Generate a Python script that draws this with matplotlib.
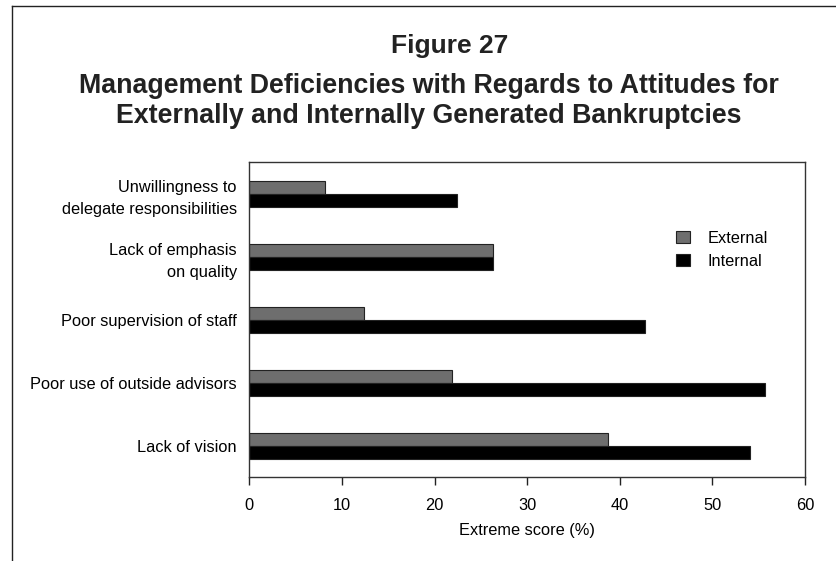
import matplotlib.pyplot as plt
from matplotlib.lines import Line2D
import numpy as np

# ------------------ DATA -----------------------------------------
categories = ['Lack of vision', 'Poor use of outside advisors', 'Poor supervision of staff',
              'Lack of emphasis\non quality', 'Unwillingness to\ndelegate responsibilities']
external = [38.7, 21.9, 12.4, 26.3, 8.2]
internal = [54.1, 55.7, 42.7, 26.3, 22.4]
xticks = [0, 10, 20, 30, 40, 50, 60]
# -----------------------------------------------------------------

plt.rcParams['font.family'] = ['Liberation Sans', 'DejaVu Sans']

fig = plt.figure(figsize=(8.36, 5.61), dpi=100)
ax = fig.add_axes([0.2982, 0.1492, 0.9629 - 0.2982, 0.7107 - 0.1492])

y = np.arange(len(categories))
h = 0.206
ax.barh(y + h / 2, external, height=h, color='#6e6e6e', edgecolor='#222222', linewidth=0.8, label='External')
ax.barh(y - h / 2, internal, height=h, color='black', edgecolor='#222222', linewidth=0.8, label='Internal')

ax.set_xlim(0, 60)
ax.set_ylim(-0.5, 4.5)
ax.set_xticks(xticks)
ax.set_yticks(y)
ax.set_yticklabels(categories, fontsize=11.8, linespacing=1.6)
ax.tick_params(axis='y', length=0, pad=9)
ax.tick_params(axis='x', length=6, width=1, direction='out', labelsize=11.8, pad=9, color='#222222')
ax.set_xlabel('Extreme score (%)', fontsize=11.8, labelpad=7)
for s in ax.spines.values():
    s.set_color('#333333')
    s.set_linewidth(1)

ax.legend(loc='upper right', bbox_to_anchor=(0.96, 0.83), frameon=False, fontsize=11.8,
          handlelength=0.8, handleheight=0.8, handletextpad=1.1, labelspacing=0.5)

bold = ['Liberation Sans', 'DejaVu Sans']
fig.text(0.538, 0.918, 'Figure 27', ha='center', va='center', fontsize=19, fontweight='bold', family=bold, color='#222222')
fig.text(0.513, 0.82, 'Management Deficiencies with Regards to Attitudes for\nExternally and Internally Generated Bankruptcies',
         ha='center', va='center', fontsize=19.3, fontweight='bold', family=bold, color='#222222', linespacing=1.2)

# frame lines along left and top
fig.add_artist(Line2D([12 / 836, 12 / 836], [0, 1 - 6 / 561], color='#222222', linewidth=1, transform=fig.transFigure))
fig.add_artist(Line2D([12 / 836, 1], [1 - 6 / 561, 1 - 6 / 561], color='#222222', linewidth=1, transform=fig.transFigure))

fig.savefig('out.png', dpi=100)
